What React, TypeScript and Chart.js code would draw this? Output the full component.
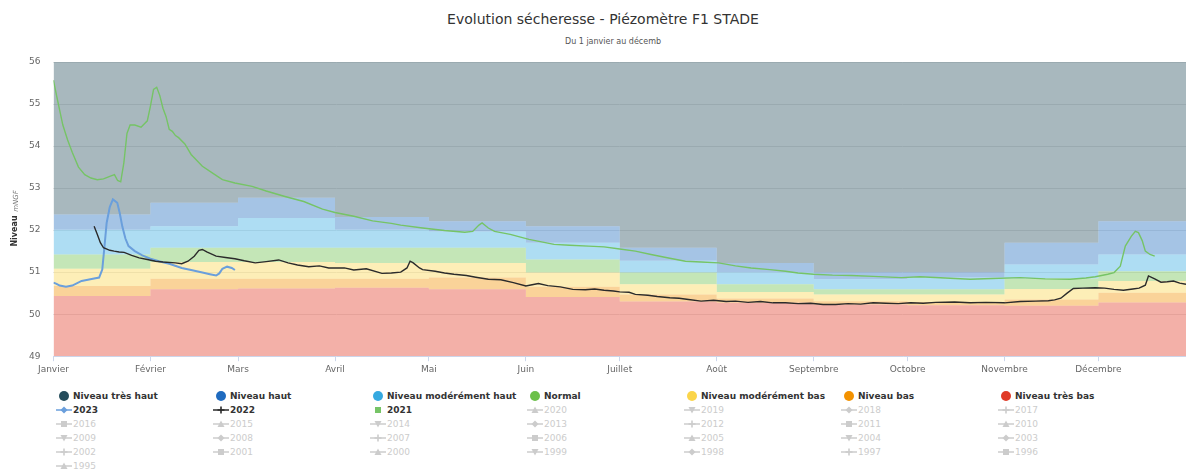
import React, { useEffect, useRef } from "react";
import { Chart, registerables } from "chart.js";

Chart.register(...registerables);

const FONT = "'DejaVu Sans', 'Open Sans', sans-serif";

const titleText = "Evolution sécheresse - Piézomètre F1 STADE";
const subtitleText = "Du 1 janvier au décemb";
const yAxisTitle = "Niveau";
const yAxisUnit = "mNGF";

const monthNames = ["Janvier", "Février", "Mars", "Avril", "Mai", "Juin", "Juillet", "Août", "Septembre", "Octobre", "Novembre", "Décembre"];
const monthStartDays = [0, 31, 59, 90, 120, 151, 181, 212, 243, 273, 304, 334];
const yearEndDay = 365;
const xMax = 362;
const yMin = 49;
const yMax = 56;

// Upper limit of each level band, one value per month
const seuilTresBas = [50.43, 50.59, 50.61, 50.63, 50.59, 50.41, 50.30, 50.27, 50.23, 50.21, 50.20, 50.28];
const seuilBas = [50.67, 50.84, 50.84, 50.84, 50.87, 50.65, 50.47, 50.37, 50.31, 50.29, 50.35, 50.51];
const seuilModereBas = [51.08, 51.24, 51.24, 51.22, 51.22, 50.99, 50.71, 50.53, 50.47, 50.47, 50.60, 50.79];
const seuilNormal = [51.42, 51.58, 51.58, 51.58, 51.58, 51.30, 50.99, 50.71, 50.59, 50.59, 50.85, 51.02];
const seuilModereHaut = [52.01, 52.09, 52.29, 52.01, 51.97, 51.70, 51.27, 51.00, 50.83, 50.87, 51.18, 51.42];
const seuilHaut = [52.37, 52.65, 52.77, 52.31, 52.21, 52.09, 51.58, 51.22, 51.00, 51.00, 51.70, 52.21];

const levelNames = ["Niveau très haut", "Niveau haut", "Niveau modérément haut", "Normal", "Niveau modérément bas", "Niveau bas", "Niveau très bas"];
const levelColors = ["#254d5c", "#1f6bbf", "#35a9e0", "#6cc04a", "#fbd54a", "#f39200", "#e03a26"];

const days2023 = [0, 1, 2, 4, 6, 9, 11, 13, 14.6, 15.6, 16.3, 17, 18, 19, 20.4, 21.2, 22, 23, 24, 26, 28.4, 31, 33.7, 37, 41, 44, 47.6, 50, 52, 53, 54, 55.5, 57, 58];
const values2023 = [50.75, 50.72, 50.68, 50.65, 50.68, 50.79, 50.82, 50.85, 50.87, 51.06, 51.6, 52.17, 52.55, 52.73, 52.65, 52.4, 52.09, 51.8, 51.62, 51.5, 51.4, 51.32, 51.26, 51.2, 51.1, 51.05, 50.99, 50.95, 50.92, 50.97, 51.08, 51.13, 51.1, 51.05];

const days2022 = [13, 14, 15, 16, 18, 19.4, 21, 22.6, 25, 27.4, 30, 32.6, 35, 39, 41, 43, 45, 46.5, 47.6, 49, 52, 55, 58, 61, 64.5, 68, 72, 75, 78, 81.6, 85, 88, 90, 93, 96, 100, 105, 108, 111, 113, 114, 115, 117, 118, 122, 125, 128, 132, 135, 139, 143, 147, 151, 153, 155, 158, 162, 166, 170, 173, 176, 179, 181, 184, 186, 190, 193, 197, 200, 203, 207, 211, 215, 218, 222, 226, 230, 234, 238, 242, 246, 250, 254, 258, 262, 266, 270, 274, 278, 282, 288, 293, 298, 304, 309, 314, 318, 320, 322, 324, 326, 329, 333, 336, 339, 342, 345, 347, 349, 350, 352, 354, 356, 358, 360, 362];
const values2022 = [52.09, 51.9, 51.7, 51.58, 51.52, 51.5, 51.48, 51.47, 51.4, 51.34, 51.3, 51.26, 51.24, 51.22, 51.2, 51.26, 51.38, 51.52, 51.54, 51.48, 51.38, 51.35, 51.32, 51.27, 51.22, 51.25, 51.29, 51.22, 51.17, 51.13, 51.15, 51.1, 51.1, 51.1, 51.05, 51.08, 50.97, 50.98, 51.0, 51.1, 51.26, 51.22, 51.1, 51.06, 51.02, 50.98, 50.95, 50.92, 50.88, 50.83, 50.82, 50.75, 50.67, 50.7, 50.73, 50.68, 50.65, 50.59, 50.58, 50.6, 50.57, 50.55, 50.53, 50.52, 50.47, 50.45, 50.42, 50.39, 50.38, 50.35, 50.31, 50.33, 50.3, 50.31, 50.28, 50.3, 50.27, 50.27, 50.25, 50.26, 50.23, 50.23, 50.25, 50.24, 50.27, 50.26, 50.25, 50.27, 50.26, 50.28, 50.29, 50.27, 50.28, 50.27, 50.3, 50.31, 50.32, 50.34, 50.38, 50.5, 50.61, 50.62, 50.63, 50.62, 50.59, 50.57, 50.6, 50.62, 50.69, 50.91, 50.84, 50.76, 50.77, 50.79, 50.74, 50.71];

const days2021 = [0, 1, 2, 3, 4.5, 6, 8, 10, 12, 14, 16, 18, 19.5, 20.5, 21.5, 22.5, 23.5, 24.5, 26, 28, 30, 31, 32, 33, 34, 35, 36, 37, 38, 39, 40, 42, 44, 47.6, 51, 54, 58, 63.5, 68, 74, 80, 86, 90, 96, 102, 108, 111, 118, 125, 131.5, 134, 136, 137, 139, 141, 146, 152, 156, 160, 165, 171, 176, 181, 186, 191, 197, 202, 207, 212.6, 218, 223, 229, 234, 238, 243, 249, 255, 262, 271, 277, 285, 293, 300, 309, 317, 325, 330, 333, 337, 339, 341, 342.6, 344.5, 345.8, 346.8, 348, 349, 350.5, 352];
const values2021 = [55.57, 55.2, 54.85, 54.5, 54.15, 53.85, 53.5, 53.32, 53.24, 53.2, 53.22, 53.28, 53.32, 53.18, 53.15, 53.6, 54.3, 54.5, 54.5, 54.45, 54.6, 54.95, 55.35, 55.4, 55.2, 54.9, 54.7, 54.4, 54.35, 54.25, 54.2, 54.05, 53.8, 53.52, 53.35, 53.2, 53.12, 53.04, 52.93, 52.8, 52.68, 52.5, 52.42, 52.33, 52.22, 52.16, 52.12, 52.05, 51.99, 51.95, 51.97, 52.12, 52.17, 52.05, 51.97, 51.9, 51.78, 51.72, 51.66, 51.64, 51.62, 51.6, 51.55, 51.5, 51.42, 51.33, 51.26, 51.24, 51.22, 51.15, 51.1, 51.06, 51.02, 50.98, 50.95, 50.93, 50.92, 50.9, 50.87, 50.89, 50.86, 50.83, 50.85, 50.87, 50.84, 50.83, 50.86, 50.89, 50.95, 50.99, 51.14, 51.62, 51.85, 51.97, 51.94, 51.75, 51.5, 51.42, 51.38];

const activeYears = [2023, 2022, 2021];
const activeYearColors = ["#6a9fdc", "#2b2b2b", "#76c466"];
const legendYears = [2023, 2022, 2021, 2020, 2019, 2018, 2017, 2016, 2015, 2014, 2013, 2012, 2011, 2010, 2009, 2008, 2007, 2006, 2005, 2004, 2003, 2002, 2001, 2000, 1999, 1998, 1997, 1996, 1995];
const markerCycle = ["diamond", "cross", "square", "triangle", "triangle-down"];

function hexAlpha(hex: string, a: number) {
  const r = parseInt(hex.slice(1, 3), 16);
  const g = parseInt(hex.slice(3, 5), 16);
  const b = parseInt(hex.slice(5, 7), 16);
  return `rgba(${r},${g},${b},${a})`;
}

const yTitlePlugin = {
  id: "yTitle",
  afterDraw(chart: any) {
    const { ctx } = chart;
    ctx.save();
    ctx.translate(15, 0);
    ctx.rotate(-Math.PI / 2);
    ctx.textBaseline = "middle";
    ctx.textAlign = "center";
    ctx.fillStyle = "#333";
    ctx.font = `bold 8px ${FONT}`;
    ctx.fillText(yAxisTitle, -231, 0);
    ctx.fillStyle = "#777";
    ctx.font = `italic 7px ${FONT}`;
    ctx.fillText(yAxisUnit, -201, 1);
    ctx.restore();
  },
};

function Marker({ shape, color, line }: { shape: string; color: string; line: boolean }) {
  let s: any = null;
  if (shape === "circle") s = <circle cx={8} cy={6} r={5} fill={color} />;
  else if (shape === "diamond") s = <polygon points="8,2.5 11.5,6 8,9.5 4.5,6" fill={color} />;
  else if (shape === "square") s = <rect x={5} y={3} width={6} height={6} fill={color} />;
  else if (shape === "triangle") s = <polygon points="8,2.5 11.5,9 4.5,9" fill={color} />;
  else if (shape === "triangle-down") s = <polygon points="4.5,3 11.5,3 8,9.5" fill={color} />;
  else if (shape === "cross") s = <path d="M8 2.5 V9.5 M4.5 6 H11.5" stroke={color} strokeWidth={1.6} />;
  return (
    <svg width={16} height={12} style={{ display: "block" }}>
      {line && <line x1={0} y1={6} x2={16} y2={6} stroke={color} strokeWidth={1.5} />}
      {s}
    </svg>
  );
}

export default function App() {
  const ref = useRef<HTMLCanvasElement>(null);

  useEffect(() => {
    document.body.style.margin = "0";
    const canvas = ref.current;
    if (!canvas) return;
    const bandPoints = (vals: number[]) => [
      ...monthStartDays.map((d, i) => ({ x: d, y: vals[i] })),
      { x: yearEndDay, y: vals[vals.length - 1] },
    ];
    const series = (days: number[], vals: number[]) => days.map((d, i) => ({ x: d, y: vals[i] }));
    const band = (label: string, vals: number[], color: string, fill: any) => ({
      label,
      data: bandPoints(vals),
      stepped: "before" as const,
      borderWidth: 0,
      borderColor: "rgba(0,0,0,0)",
      backgroundColor: hexAlpha(color, 0.4),
      pointRadius: 0,
      fill,
      order: 1,
    });
    const yearLine = (label: string, days: number[], vals: number[], color: string, width: number) => ({
      label,
      data: series(days, vals),
      borderColor: color,
      borderWidth: width,
      pointRadius: 0,
      fill: false,
      order: 0,
    });

    const chart = new Chart(canvas, {
      type: "line",
      data: {
        datasets: [
          band(levelNames[6], seuilTresBas, levelColors[6], "start"),
          band(levelNames[5], seuilBas, levelColors[5], "-1"),
          band(levelNames[4], seuilModereBas, levelColors[4], "-1"),
          band(levelNames[3], seuilNormal, levelColors[3], "-1"),
          band(levelNames[2], seuilModereHaut, levelColors[2], "-1"),
          band(levelNames[1], seuilHaut, levelColors[1], "-1"),
          band(levelNames[0], seuilHaut, levelColors[0], "end"),
          yearLine(String(activeYears[2]), days2021, values2021, activeYearColors[2], 1.4),
          yearLine(String(activeYears[1]), days2022, values2022, activeYearColors[1], 1.4),
          yearLine(String(activeYears[0]), days2023, values2023, activeYearColors[0], 2),
        ] as any,
      },
      options: {
        animation: false,
        responsive: false,
        devicePixelRatio: 1,
        layout: { padding: { left: 16, top: 62, right: 0, bottom: 2 } },
        plugins: { legend: { display: false }, tooltip: { enabled: false }, title: { display: false } },
        elements: { line: { tension: 0 }, point: { radius: 0 } },
        scales: {
          x: {
            type: "linear",
            min: 0,
            max: xMax,
            afterBuildTicks: (scale: any) => {
              scale.ticks = monthStartDays.map((v) => ({ value: v }));
            },
            ticks: {
              autoSkip: false,
              maxRotation: 0,
              padding: 3,
              color: "#666",
              font: { size: 9, family: FONT },
              callback: (v: any) => monthNames[monthStartDays.indexOf(Number(v))],
            },
            grid: { drawOnChartArea: false, tickLength: 5, color: "#ccd6eb" },
            border: { color: "#ccd6eb" },
          },
          y: {
            min: yMin,
            max: yMax,
            ticks: { stepSize: 1, padding: 13, color: "#666", font: { size: 9, family: FONT } },
            grid: { color: "#e8e8e8", drawTicks: false },
            border: { display: false },
          },
        },
      } as any,
      plugins: [yTitlePlugin],
    });
    return () => chart.destroy();
  }, []);

  const legendItems: any[] = [];
  levelNames.forEach((n, i) => legendItems.push({ text: n, kind: "level", color: levelColors[i], bold: true }));
  legendYears.forEach((y) => {
    const ai = activeYears.indexOf(y);
    const shape = markerCycle[(2023 - y) % markerCycle.length];
    if (ai >= 0) {
      legendItems.push({ text: String(y), kind: "year", color: activeYearColors[ai], bold: true, shape, line: y !== 2021 });
    } else {
      legendItems.push({ text: String(y), kind: "year", color: "#cccccc", bold: false, shape, line: true });
    }
  });

  return (
    <div style={{ position: "absolute", left: 0, top: 0, width: 1186, height: 474, background: "#fff", fontFamily: FONT, overflow: "hidden" }}>
      <div style={{ position: "absolute", left: 10, width: 1186, top: 10, textAlign: "center", fontSize: 14, color: "#333", lineHeight: "18px" }}>{titleText}</div>
      <div style={{ position: "absolute", left: 20, width: 1186, top: 36, textAlign: "center", fontSize: 8, color: "#555", lineHeight: "12px" }}>{subtitleText}</div>
      <canvas ref={ref} width={1186} height={380} style={{ position: "absolute", left: 0, top: 0 }} />
      <div style={{ position: "absolute", left: 56, top: 389, display: "grid", gridTemplateColumns: "repeat(7, 157px)", gridAutoRows: "14px" }}>
        {legendItems.map((it, i) => (
          <div key={i} style={{ display: "flex", alignItems: "center", height: 14, whiteSpace: "nowrap" }}>
            {it.kind === "level" ? (
              <Marker shape="circle" color={it.color} line={false} />
            ) : (
              <Marker shape={it.shape} color={it.color} line={it.line} />
            )}
            <span style={{ marginLeft: 1, fontSize: 9, fontWeight: it.bold ? "bold" : "normal", color: it.bold ? "#333" : "#cccccc" }}>{it.text}</span>
          </div>
        ))}
      </div>
    </div>
  );
}
